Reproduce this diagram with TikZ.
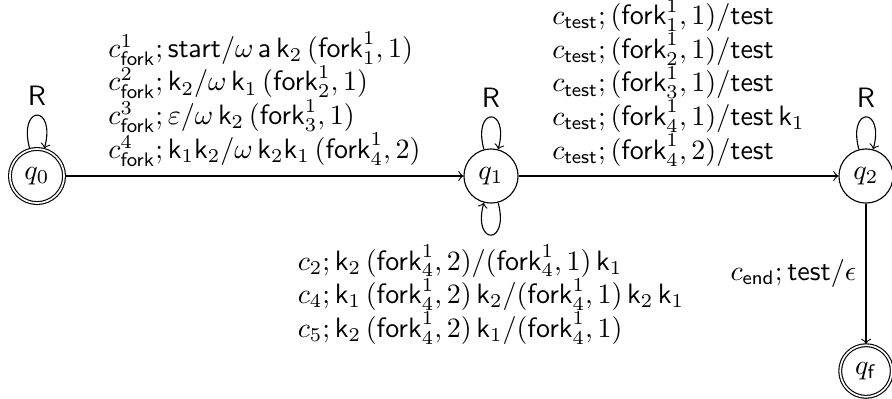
\documentclass[tikz,border=0pt]{standalone}
\usetikzlibrary{automata}
\newcommand{\sfx}[1]{\mathsf{#1}}
\newcommand{\fk}[1]{\sfx{fork}^1_{#1}}
\begin{document}
\begin{tikzpicture}[x=0.3571pt,y=-0.3571pt,
    every state/.style={minimum size=0pt,inner sep=3pt},
    lbl/.style={align=left},
    every loop/.style={->},
    >=to]
  \useasboundingbox (0,0) rectangle (892,398);

  % states
  \node[state,accepting] (q0) at (37,176) {$q_0$};
  \node[state]           (q1) at (491,176) {$q_1$};
  \node[state]           (q2) at (866,176) {$q_2$};
  \node[state,accepting] (qf) at (866,371) {$q_{\sfx{f}}$};

  % transitions with their labels
  \draw[->] (q0) -- node[lbl,above] (l01) {%
    $c^1_{\sfx{fork}}; \sfx{start}/\omega\,\sfx{a}\,\sfx{k}_2\,(\fk{1}, 1)$\\
    $c^2_{\sfx{fork}}; \sfx{k}_2/\omega\,\sfx{k}_1\,(\fk{2}, 1)$\\
    $c^3_{\sfx{fork}}; \varepsilon/\omega\,\sfx{k}_2\,(\fk{3}, 1)$\\
    $c^4_{\sfx{fork}}; \sfx{k}_1\sfx{k}_2/\omega\,\sfx{k}_2\sfx{k}_1\,(\fk{4}, 2)$} (q1);
  \draw[->] (q1) -- node[lbl,above] (l12) {%
    $c_{\sfx{test}}; (\fk{1}, 1)/\sfx{test}$\\
    $c_{\sfx{test}}; (\fk{2}, 1)/\sfx{test}$\\
    $c_{\sfx{test}}; (\fk{3}, 1)/\sfx{test}$\\
    $c_{\sfx{test}}; (\fk{4}, 1)/\sfx{test}\,\sfx{k}_1$\\
    $c_{\sfx{test}}; (\fk{4}, 2)/\sfx{test}$} (q2);
  \draw[->] (q2) -- node[left] (l2f) {$c_{\sfx{end}}; \sfx{test}/\epsilon$} (qf);

  \path (q0) edge[loop above] node[above] (r0) {$\sfx{R}$} ();
  \path (q1) edge[loop above] node[above] (r1) {$\sfx{R}$} ();
  \path (q1) edge[loop below] node[lbl,below] (l11) {%
    $c_2; \sfx{k}_2\,(\fk{4}, 2)/(\fk{4}, 1)\,\sfx{k}_1$\\
    $c_4; \sfx{k}_1\,(\fk{4}, 2)\,\sfx{k}_2/(\fk{4}, 1)\,\sfx{k}_2\,\sfx{k}_1$\\
    $c_5; \sfx{k}_2\,(\fk{4}, 2)\,\sfx{k}_1/(\fk{4}, 1)$} ();
  \path (q2) edge[loop above] node[above] (r2) {$\sfx{R}$} ();
\end{tikzpicture}
\end{document}
